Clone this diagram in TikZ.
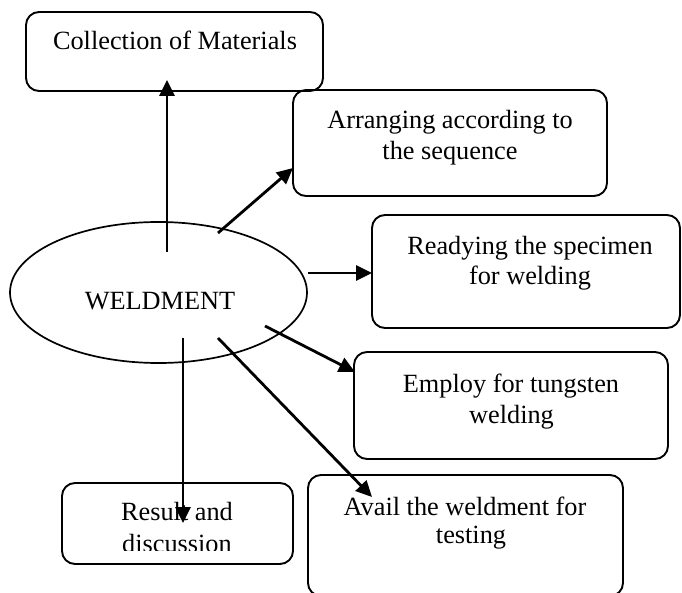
\documentclass[tikz,border=0pt]{standalone}
\usepackage{fontspec}
\setmainfont{Liberation Serif}
\usetikzlibrary{shapes.geometric,arrows.meta}
\begin{document}
\begin{tikzpicture}[x=1pt,y=-1pt,
  box/.style={draw,line width=1.9pt,rounded corners=13pt,rectangle,inner sep=0pt},
  txt/.style={anchor=base,inner sep=0pt,font=\fontsize{26.3}{31}\selectfont},
  arr/.style={line width=2.8pt,-{Triangle[length=16pt,width=15pt]}}]
\useasboundingbox (0,0) rectangle (682,593);
\clip (0,0) rectangle (682,593);
% boxes
\node[box,minimum width=297pt,minimum height=79pt] (coll) at (174.5,51.5) {};
\node[box,minimum width=314pt,minimum height=106pt] (arrg) at (450,143) {};
\node[box,minimum width=308pt,minimum height=113pt] (ready) at (526,271.5) {};
\node[box,minimum width=314pt,minimum height=107pt] (emp) at (511,405.5) {};
\node[box,minimum width=231pt,minimum height=81pt] (res) at (177.5,523.5) {};
\node[box,minimum width=315pt,minimum height=121pt] (avail) at (465.5,535.5) {};
\node[draw,ellipse,line width=1.7pt,inner sep=0pt,minimum width=297pt,minimum height=141pt] (weld) at (158.5,292.5) {};
% texts
\node[txt] (tweld) at (160,309) {WELDMENT};
\node[txt] (tcoll) at (175,50) {Collection of Materials};
\node[txt] (tarr1) at (450,129) {Arranging according to};
\node[txt] (tarr2) at (450,160) {the sequence};
\node[txt] (trd1) at (530,255) {Readying the specimen};
\node[txt] (trd2) at (530,285) {for welding};
\node[txt] (temp1) at (511,392) {Employ for tungsten};
\node[txt] (temp2) at (511.5,423) {welding};
\node[txt] (tres1) at (177,520.5) {Result and};
\begin{scope}
\clip (0,0) rectangle (682,550.8);
\node[txt] (tres2) at (177,552) {discussion};
\end{scope}
\node[txt] (tav1) at (465,515) {Avail the weldment for};
\node[txt] (tav2) at (471,543) {testing};
% connector end points
\coordinate (s1) at (167,252);
\coordinate (e1) at (167,80);
\coordinate (s2) at (218,233);
\coordinate (e2) at (293,168);
\coordinate (s3) at (308,273);
\coordinate (e3) at (372,273);
\coordinate (s4) at (265,326);
\coordinate (e4) at (355,372);
\coordinate (s5) at (183,338);
\coordinate (e5) at (183,523);
\coordinate (s6) at (218,338);
\coordinate (e6) at (372,497);
\draw[arr] (s1) -- (e1);
\draw[arr] (s2) -- (e2);
\draw[arr] (s3) -- (e3);
\draw[arr] (s4) -- (e4);
\draw[arr] (s5) -- (e5);
\draw[arr] (s6) -- (e6);
\end{tikzpicture}
\end{document}
